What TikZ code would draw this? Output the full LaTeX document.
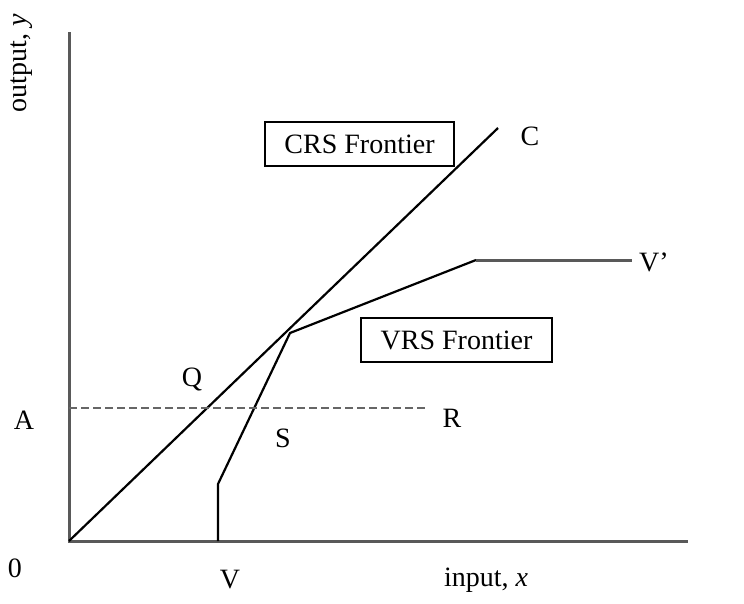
\documentclass[tikz,border=0pt]{standalone}
\usepackage{fontspec}
\setmainfont{Liberation Serif}
\begin{document}
\begin{tikzpicture}[x=1pt,y=-1pt,
    lbl/.style={font=\fontsize{28}{32}\selectfont, inner sep=0pt},
    frontbox/.style={draw, line width=2.5pt, font=\fontsize{28}{32}\selectfont, minimum width=189pt, minimum height=44pt, inner sep=0pt}]
    \useasboundingbox (0,0) rectangle (744,603);
    
    % Axes
    \coordinate (O) at (69,541);
    \coordinate (ytop) at (69,32);
    \coordinate (xend) at (688,541);
    \draw[line width=3pt, black!65] (ytop) -- (O) -- (xend);
    
    % CRS frontier
    \coordinate (C) at (498,128);
    \draw[line width=2.2pt] (O) -- (C);
    
    % VRS frontier
    \coordinate (V) at (218,541);
    \coordinate (Vk) at (218,484);
    \coordinate (T) at (290,333);
    \coordinate (Vb) at (476,260);
    \coordinate (Vp) at (632,260);
    \draw[line width=2.2pt] (V) -- (Vk) -- (T) -- (Vb);
    \draw[line width=3pt, black!65] (Vb) -- (Vp);
    
    % Output level A
    \coordinate (Ay) at (69,408);
    \coordinate (Ry) at (427,408);
    \draw[line width=2.5pt, dash pattern=on 8pt off 4pt, black!60] (Ay) -- (Ry);
    
    % Boxes
    \node[frontbox] (crs) at (359.5,144) {CRS Frontier};
    \node[frontbox, minimum width=191pt] (vrs) at (456.5,340) {VRS Frontier};
    
    % Labels
    \node[lbl] (lC) at (530,136) {C};
    \node[lbl] (lVp) at (654,262) {V’};
    \node[lbl] (lQ) at (192,379) {Q};
    \node[lbl] (lA) at (24,420) {A};
    \node[lbl] (lR) at (452,418) {R};
    \node[lbl] (lS) at (283,438) {S};
    \node[lbl] (l0) at (15,568) {0};
    \node[lbl] (lV) at (230,580) {V};
    \node[lbl] (lx) at (486,580) {input, \textit{x}};
    \node[lbl, rotate=90] (ly) at (22,63) {output, \textit{y}};
\end{tikzpicture}
\end{document}
